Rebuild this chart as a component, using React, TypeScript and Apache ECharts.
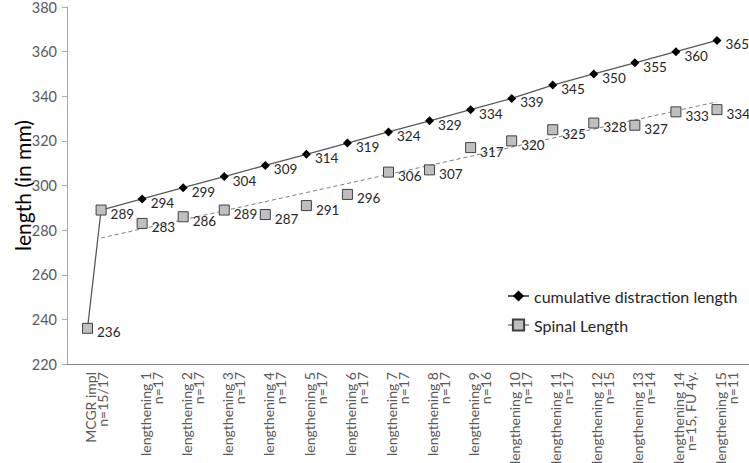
import React, { useEffect, useRef } from "react";
import * as echarts from "echarts";

// ---- data ----
const categories = [
  "MCGR impl\nn=15/17",
  "lengthening 1\nn=17",
  "lengthening 2\nn=17",
  "lengthening 3\nn=17",
  "lengthening 4\nn=17",
  "lengthening 5\nn=17",
  "lengthening 6\nn=17",
  "lengthening 7\nn=17",
  "lengthening 8\nn=17",
  "lengthening 9\nn=16",
  "lengthening 10\nn=17",
  "lengthening 11\nn=17",
  "lengthening 12\nn=15",
  "lengthening 13\nn=14",
  "lengthening 14\nn=15, FU 4y.",
  "lengthening 15\nn=11",
];
const cumulativeDistraction = [289, 294, 299, 304, 309, 314, 319, 324, 329, 334, 339, 345, 350, 355, 360, 365];
const spinalLength = [289, 283, 286, 289, 287, 291, 296, 306, 307, 317, 320, 325, 328, 327, 333, 334];
const preOpSpinalLength = 236; // before implantation
const trendEndpoints = [276.5, 337.5]; // linear trend of spinal length, at first and last category
const yTicks = { min: 220, max: 380, interval: 20 };

// ---- layout constants (x axis in category units, origin at the plot's left edge) ----
const X0 = 0.83; // position of the first category
const X_MAX = 16.61;
const PRE_OP_SHIFT = -0.33;
const LABEL_SHIFT_FIRST = -0.12;
const LABEL_SHIFT = 0.22;
const FONT = "Lato, 'Open Sans', sans-serif";

export default function App() {
  const ref = useRef<HTMLDivElement>(null);

  useEffect(() => {
    if (!ref.current) return;
    const chart = echarts.init(ref.current, undefined, { renderer: "svg" });

    const last = categories.length - 1;
    const xOf = (i: number) => X0 + i;
    const labelValues = categories.map((_, i) => xOf(i) + (i === 0 ? LABEL_SHIFT_FIRST : LABEL_SHIFT));
    const preX = xOf(0) + PRE_OP_SHIFT;

    const cumData: any[] = [
      { value: [preX, preOpSpinalLength], symbol: "none", label: { show: false } },
      ...cumulativeDistraction.map((v, i) =>
        i === 0 ? { value: [xOf(i), v], symbol: "none", label: { show: false } } : { value: [xOf(i), v] }
      ),
    ];
    const spinalData: any[] = [
      { value: [preX, preOpSpinalLength] },
      ...spinalLength.map((v, i) => ({ value: [xOf(i), v] })),
    ];

    const labelStyle = {
      show: true,
      position: "right" as const,
      distance: 4,
      offset: [0, 4],
      color: "#262626",
      fontSize: 13.5,
      fontFamily: FONT,
      formatter: (p: any) => String(p.value[1]),
    };

    chart.setOption({
      animation: false,
      textStyle: { fontFamily: FONT },
      grid: {
        left: 67,
        right: 0,
        top: 7,
        bottom: 99,
        containLabel: false,
        outerBoundsMode: "none",
      },
      legend: {
        orient: "vertical",
        left: 507,
        top: 288,
        padding: 0,
        itemWidth: 21,
        itemHeight: 14,
        itemGap: 13,
        textStyle: { fontSize: 16, color: "#262626", fontFamily: FONT },
        data: [
          { name: "cumulative distraction length" },
          { name: "Spinal Length", lineStyle: { opacity: 1, width: 1, color: "#404040", type: "solid" } },
        ],
      },
      xAxis: {
        type: "value",
        min: 0,
        max: X_MAX,
        splitLine: { show: false },
        axisTick: { show: false },
        axisLine: { show: true, onZero: false, lineStyle: { color: "#868686", width: 1 } },
        axisLabel: {
          show: true,
          customValues: labelValues,
          rotate: 90,
          margin: 8,
          fontSize: 14,
          lineHeight: 12,
          color: "#595959",
          fontFamily: FONT,
          formatter: (v: number) => categories[Math.round(v - X0)] ?? "",
        },
      },
      yAxis: {
        type: "value",
        min: yTicks.min,
        max: yTicks.max,
        interval: yTicks.interval,
        name: "length (in mm)",
        nameLocation: "middle",
        nameRotate: 90,
        nameGap: 34,
        nameMoveOverlap: false,
        nameTextStyle: { fontSize: 21, color: "#000", fontFamily: FONT },
        splitLine: { show: false },
        axisLine: { show: true, onZero: false, lineStyle: { color: "#aaaaaa", width: 1 } },
        axisTick: { show: true, length: 5, lineStyle: { color: "#aaaaaa" } },
        axisLabel: { fontSize: 14.5, color: "#595959", margin: 10, fontFamily: FONT },
      },
      series: [
        {
          name: "trend",
          type: "line",
          data: [
            [xOf(0), trendEndpoints[0]],
            [xOf(last), trendEndpoints[1]],
          ],
          symbol: "none",
          silent: true,
          lineStyle: { color: "#7f7f7f", width: 1, type: [4, 3] },
          z: 1,
        },
        {
          name: "cumulative distraction length",
          type: "line",
          data: cumData,
          symbol: "diamond",
          symbolSize: 9,
          itemStyle: { color: "#000" },
          lineStyle: { color: "#595959", width: 1.3 },
          label: labelStyle,
          z: 3,
        },
        {
          name: "Spinal Length",
          type: "line",
          data: spinalData,
          symbol: "rect",
          symbolSize: 10,
          itemStyle: { color: "#bfbfbf", borderColor: "#404040", borderWidth: 1 },
          lineStyle: { opacity: 0, width: 0 },
          label: labelStyle,
          z: 4,
        },
      ],
    });

    return () => chart.dispose();
  }, []);

  return (
    <div
      ref={ref}
      style={{ position: "absolute", left: 0, top: 0, width: 749, height: 463 }}
    />
  );
}
